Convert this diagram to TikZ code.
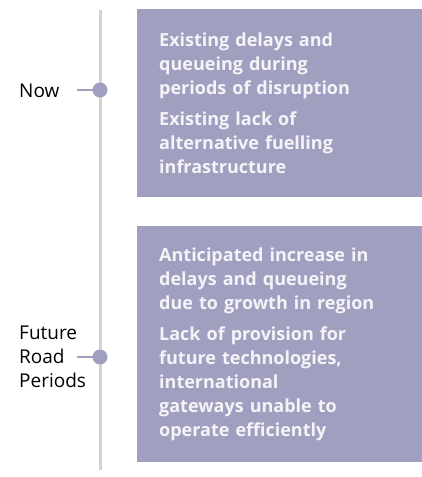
\documentclass[tikz,border=0pt]{standalone}
\usepackage{fontspec}
\setmainfont{Open Sans}
\usetikzlibrary{positioning}
\definecolor{boxpurple}{HTML}{A19FBF}
\definecolor{axisgrey}{HTML}{D3D3D3}
\definecolor{boxtext}{HTML}{F4F4F8}

\begin{document}
\begin{tikzpicture}[x=1pt, y=-1pt,
    issue/.style={rectangle, fill=boxpurple, minimum width=280pt, text width=250pt, inner xsep=22pt, inner ysep=0pt, align=left, text=boxtext, font=\bfseries\fontsize{18}{24}\selectfont, anchor=north west},
    period/.style={align=left, inner sep=0pt, font=\fontsize{19}{24}\selectfont, anchor=west},
    dot/.style={circle, fill=boxpurple, inner sep=0pt, minimum size=15pt},
    link/.style={draw=boxpurple, line width=2pt},
    axis/.style={draw=axisgrey, line width=3pt}]
    \useasboundingbox (0,0) rectangle (422,477);

    % timeline
    \coordinate (axistop) at (100,10);
    \coordinate (axisbottom) at (100,470);
    \draw[axis] (axistop) -- (axisbottom);

    % issue boxes
    \node[issue, minimum height=188pt] (nowbox) at (137,9) {Existing delays and\\queueing during\\periods of disruption\\[7pt]Existing lack of\\alternative fuelling\\infrastructure};
    \node[issue, minimum height=236pt] (futurebox) at (137,226) {Anticipated increase in\\delays and queueing\\due to growth in region\\[7pt]Lack of provision for\\future technologies,\\international\\gateways unable to\\operate efficiently};

    % periods
    \coordinate (nowpt) at (100,90);
    \coordinate (futurept) at (100,357);
    \draw[link] ([xshift=-23pt]nowpt) -- (nowpt);
    \draw[link] ([xshift=-23pt]futurept) -- (futurept);
    \node[dot] (nowdot) at (nowpt) {};
    \node[dot] (futuredot) at (futurept) {};

    \node[period] (now) at (19,91) {Now};
    \node[period] (future) at (19,357) {Future\\Road\\Periods};
\end{tikzpicture}
\end{document}
